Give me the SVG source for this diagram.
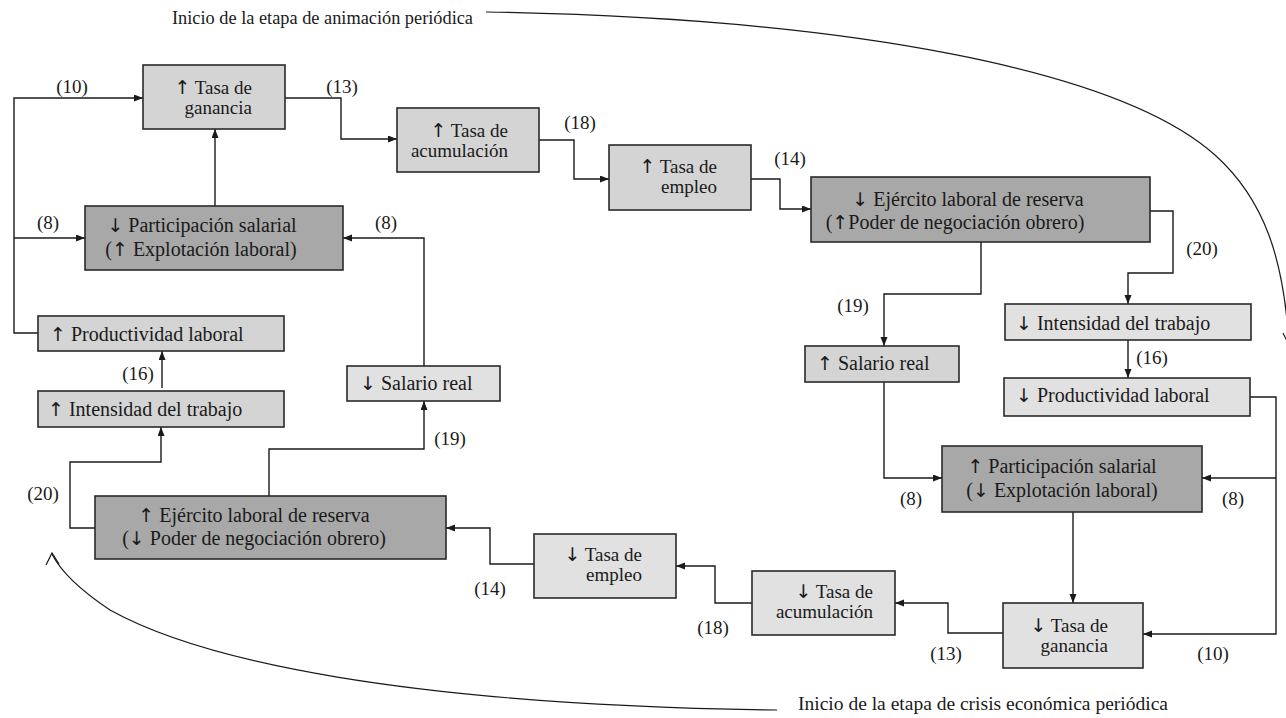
<svg xmlns="http://www.w3.org/2000/svg" width="1286" height="718" viewBox="0 0 1286 718">
<style>
text{font-family:"Liberation Serif","Times New Roman",serif;font-size:20px;fill:#1a1a1a}
.a{font-family:"DejaVu Sans",sans-serif;font-size:19px;fill:#1a1a1a}
.l{font-size:19px}
.t{font-size:19px}
.up{fill:#d4d4d4;stroke:#2a2a2a;stroke-width:1.6}
.dn{fill:#e1e1e1;stroke:#2a2a2a;stroke-width:1.6}
.dk{fill:#a8a8a8;stroke:#2a2a2a;stroke-width:1.6}
.c{fill:none;stroke:#1a1a1a;stroke-width:1.4}
.cv{fill:none;stroke:#1a1a1a;stroke-width:1.2}
.e{text-anchor:end}
.m{text-anchor:middle}
</style>
<defs>
<marker id="ah" markerUnits="userSpaceOnUse" markerWidth="10" markerHeight="8" refX="9" refY="3.5" orient="auto">
<path d="M0,0 L9,3.5 L0,7 z" fill="#1a1a1a"/>
</marker>
</defs>
<g id="connectors">
<path class="c" marker-end="url(#ah)" d="M38,333 H14 V98 H143"/>
<path class="c" marker-end="url(#ah)" d="M14,238 H85"/>
<path class="c" marker-end="url(#ah)" d="M215,206 V129"/>
<path class="c" marker-end="url(#ah)" d="M285,98 H341 V139 H397"/>
<path class="c" marker-end="url(#ah)" d="M539,140 H574 V179 H609"/>
<path class="c" marker-end="url(#ah)" d="M751,179 H780 V209 H811"/>
<path class="c" marker-end="url(#ah)" d="M1150,211 H1173 V273 H1128 V304"/>
<path class="c" marker-end="url(#ah)" d="M981,242 V294 H884 V346"/>
<path class="c" marker-end="url(#ah)" d="M1128,340 V378"/>
<path class="c" marker-end="url(#ah)" d="M884,382 V478 H942"/>
<path class="c" marker-end="url(#ah)" d="M1250,397 H1276 V634 H1143"/>
<path class="c" marker-end="url(#ah)" d="M1276,478 H1202"/>
<path class="c" marker-end="url(#ah)" d="M1073,512 V603"/>
<path class="c" marker-end="url(#ah)" d="M1003,633 H948 V603 H895"/>
<path class="c" marker-end="url(#ah)" d="M752,603 H715 V566 H676"/>
<path class="c" marker-end="url(#ah)" d="M534,564 H490 V528 H446"/>
<path class="c" marker-end="url(#ah)" d="M269,496 V449 H424 V401"/>
<path class="c" marker-end="url(#ah)" d="M424,366 V238 H343"/>
<path class="c" marker-end="url(#ah)" d="M95,528 H70 V462 H161 V427"/>
<path class="c" marker-end="url(#ah)" d="M162,388 V351"/>
<path class="cv" d="M486,12 C850,18 1120,70 1215,155 C1265,200 1284,260 1289,345"/>
<path class="cv" d="M1283,333 L1289,345 L1295,333"/>
<path class="cv" d="M777,710 C400,705 200,660 110,610 C80,590 61,572 52,554"/>
<path class="cv" d="M46,565 L52,553 L59,564"/>
</g>
<g id="labels">
<text x="72" y="93" class="m l">(10)</text>
<text x="342" y="93" class="m l">(13)</text>
<text x="48" y="229" class="m l">(8)</text>
<text x="386" y="229" class="m l">(8)</text>
<text x="580" y="129" class="m l">(18)</text>
<text x="790" y="165" class="m l">(14)</text>
<text x="1202" y="255" class="m l">(20)</text>
<text x="853" y="312" class="m l">(19)</text>
<text x="1152" y="364" class="m l">(16)</text>
<text x="911" y="505" class="m l">(8)</text>
<text x="1233" y="505" class="m l">(8)</text>
<text x="1213" y="660" class="m l">(10)</text>
<text x="946" y="660" class="m l">(13)</text>
<text x="713" y="634" class="m l">(18)</text>
<text x="490" y="595" class="m l">(14)</text>
<text x="138" y="380" class="m l">(16)</text>
<text x="43" y="500" class="m l">(20)</text>
<text x="450" y="445" class="m l">(19)</text>
<text x="172" y="24" class="l" textLength="301" lengthAdjust="spacingAndGlyphs">Inicio de la etapa de animación periódica</text>
<text x="798" y="710" class="l" textLength="370" lengthAdjust="spacingAndGlyphs">Inicio de la etapa de crisis económica periódica</text>
</g>
<g id="n-ganancia-up"><rect class="up" x="143" y="65" width="142" height="64"/><text x="252" y="94" class="e t"><tspan class="a">↑</tspan> Tasa de</text><text x="252" y="114" class="e t">ganancia</text></g>
<g id="n-acumulacion-up"><rect class="up" x="397" y="108" width="142" height="64"/><text x="508" y="137" class="e t"><tspan class="a">↑</tspan> Tasa de</text><text x="508" y="157" class="e t">acumulación</text></g>
<g id="n-empleo-up"><rect class="up" x="609" y="145" width="142" height="65"/><text x="717" y="173" class="e t"><tspan class="a">↑</tspan> Tasa de</text><text x="717" y="193" class="e t">empleo</text></g>
<g id="n-ejercito-down"><rect class="dk" x="811" y="177" width="339" height="65"/><text x="968" y="206" class="m"><tspan class="a">↓</tspan> Ejército laboral de reserva</text><text x="955" y="229" class="m">(<tspan class="a">↑</tspan>Poder de negociación obrero)</text></g>
<g id="n-intensidad-down"><rect class="dn" x="1005" y="304" width="246" height="36"/><text x="1016" y="330"><tspan class="a">↓</tspan> Intensidad del trabajo</text></g>
<g id="n-productividad-down"><rect class="dn" x="1004" y="378" width="246" height="38"/><text x="1016" y="402"><tspan class="a">↓</tspan> Productividad laboral</text></g>
<g id="n-salario-up"><rect class="up" x="805" y="346" width="154" height="36"/><text x="817" y="370"><tspan class="a">↑</tspan> Salario real</text></g>
<g id="n-participacion-up"><rect class="dk" x="942" y="446" width="260" height="66"/><text x="1062" y="473" class="m"><tspan class="a">↑</tspan> Participación salarial</text><text x="1062" y="497" class="m">(<tspan class="a">↓</tspan> Explotación laboral)</text></g>
<g id="n-ganancia-down"><rect class="dn" x="1003" y="603" width="140" height="65"/><text x="1108" y="632" class="e t"><tspan class="a">↓</tspan> Tasa de</text><text x="1108" y="652" class="e t">ganancia</text></g>
<g id="n-acumulacion-down"><rect class="dn" x="752" y="571" width="143" height="64"/><text x="873" y="598" class="e t"><tspan class="a">↓</tspan> Tasa de</text><text x="873" y="618" class="e t">acumulación</text></g>
<g id="n-empleo-down"><rect class="dn" x="534" y="534" width="142" height="64"/><text x="642" y="561" class="e t"><tspan class="a">↓</tspan> Tasa de</text><text x="642" y="581" class="e t">empleo</text></g>
<g id="n-ejercito-up"><rect class="dk" x="95" y="496" width="351" height="63"/><text x="254" y="522" class="m"><tspan class="a">↑</tspan> Ejército laboral de reserva</text><text x="254" y="545" class="m">(<tspan class="a">↓</tspan> Poder de negociación obrero)</text></g>
<g id="n-salario-down"><rect class="dn" x="347" y="366" width="153" height="35"/><text x="360" y="390"><tspan class="a">↓</tspan> Salario real</text></g>
<g id="n-intensidad-up"><rect class="up" x="38" y="391" width="246" height="36"/><text x="48" y="416"><tspan class="a">↑</tspan> Intensidad del trabajo</text></g>
<g id="n-productividad-up"><rect class="up" x="38" y="316" width="246" height="35"/><text x="50" y="341"><tspan class="a">↑</tspan> Productividad laboral</text></g>
<g id="n-participacion-down"><rect class="dk" x="85" y="206" width="258" height="64"/><text x="202" y="232" class="m"><tspan class="a">↓</tspan> Participación salarial</text><text x="201" y="256" class="m">(<tspan class="a">↑</tspan> Explotación laboral)</text></g>
</svg>
